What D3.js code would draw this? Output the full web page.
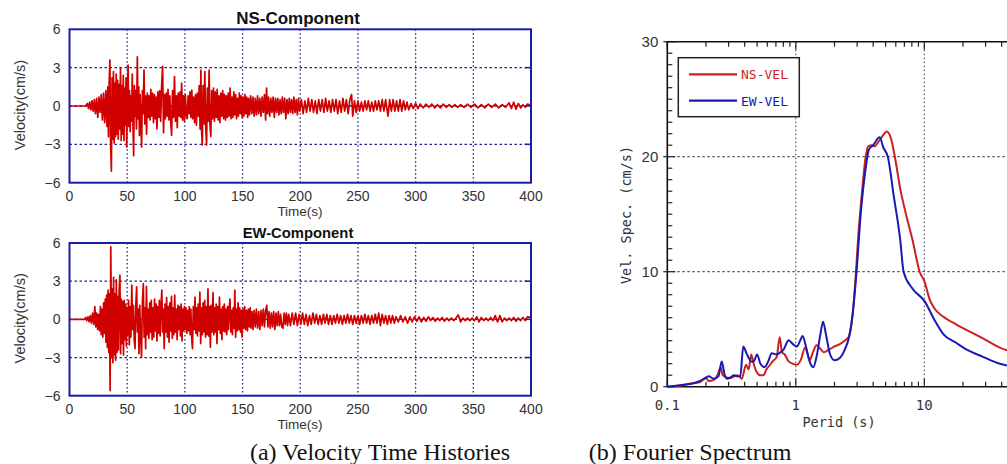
<!DOCTYPE html>
<html>
<head>
<meta charset="utf-8">
<script src="https://cdn.jsdelivr.net/npm/d3@7"></script>
<style>
body { margin: 0; background: #fff; }
svg { display: block; }
.tick-label { font-family: "Liberation Sans", Arial, sans-serif; font-size: 14px; fill: #333; }
.mono { font-family: "DejaVu Sans Mono", "Liberation Mono", monospace; }
.caption { font-family: "Liberation Serif", "Times New Roman", serif; font-size: 24px; fill: #111; }
</style>
</head>
<body>
<script>
// - data -

// velocity time histories [time (s), velocity (cm/s)]
var nsVel = [[0,0],[14,0],[15.5,0.2],[16.5,-0.2],[17.5,0.3],[18.5,-0.3],[19.5,0.4],[20.5,-0.4],[21.5,0.5],[22.5,-0.6],[23.5,0.6],[24.5,-0.9],[25.5,0.7],[26.5,-0.5],[27.5,0.9],[28.5,-1.1],[29.5,1.0],[30.5,-1.3],[31.5,1.2],[32.5,-1.6],[33.2,1.5],[33.8,-2.4],[34.4,1.9],[35,3.6],[35.6,-2.8],[36.3,-5.1],[36.9,2.2],[37.5,-2.6],[38.1,2.7],[38.7,-2.9],[39.3,1.8],[39.9,-2.4],[40.5,2.5],[41.1,-2.2],[41.7,2.0],[42.3,-2.6],[42.9,1.7],[43.5,-1.8],[44.2,3.0],[44.8,-2.7],[45.4,1.6],[46,-2.2],[46.6,2.4],[47.2,-2.7],[47.8,1.4],[48.4,-1.5],[49,2.2],[49.6,-3.2],[50.2,1.1],[50.8,3.2],[51.4,-1.6],[52,1.2],[52.6,-2.0],[53.2,0.8],[53.8,-1.2],[54.4,2.5],[55,-1.5],[55.6,-3.9],[56.2,1.6],[56.8,-0.8],[57.4,1.2],[58,-1.8],[58.8,3.85],[59.4,-1.0],[60,1.5],[60.6,-2.3],[61.2,0.9],[61.8,-1.2],[62.5,-3.2],[63.2,1.2],[63.8,-0.6],[64.6,2.8],[65.3,-1.4],[66,0.8],[66.8,-2.2],[67.5,1.0],[68.3,-0.9],[69,0.8],[69.8,-1.1],[70.5,1.3],[71.3,-0.8],[72,1.0],[72.8,-1.3],[73.6,0.9],[74.4,-1.0],[75.2,0.7],[75.8,-1.8],[76.6,1.1],[77.4,-0.9],[78.2,1.2],[79,-1.2],[79.8,1.5],[80.7,3.1],[81.5,-2.1],[82.3,0.9],[83.1,-1.0],[83.9,1.0],[84.7,-0.8],[85.4,1.3],[86.2,-1.1],[87,0.8],[87.8,-1.3],[88.5,-2.3],[89.3,1.2],[90.1,-0.9],[91,2.3],[91.8,-1.2],[92.6,0.8],[93.4,-1.7],[94.2,1.0],[95,-0.8],[95.8,1.1],[96.5,-0.9],[97.2,1.8],[98,-1.1],[98.8,0.8],[99.6,-1.2],[100.4,0.9],[101.2,-0.7],[102,-1.0],[102.8,0.8],[103.6,-0.6],[104.4,1.1],[105.2,-0.9],[106,1.25],[106.8,-1.0],[107.6,0.7],[108.4,-1.3],[109.2,0.9],[110,-1.5],[110.8,1.0],[111.6,-0.8],[112.4,1.6],[113.2,-1.8],[113.9,2.8],[114.5,-2.0],[115.1,-3.05],[115.8,1.6],[116.5,-1.4],[117.3,2.7],[118,-1.5],[118.8,-3.05],[119.5,1.4],[120.2,-1.2],[121,2.8],[121.7,-1.4],[122.5,-2.4],[123.2,1.2],[124,-1.0],[124.8,1.4],[125.6,-1.2],[126.4,1.1],[127.2,-0.9],[128,1.3],[128.8,-1.1],[129.6,0.8],[130.4,-1.3],[131.2,1.0],[132,-0.8],[132.8,1.2],[133.6,-1.0],[134.4,0.9],[135.2,-1.1],[136,0.8],[136.8,-0.9],[137.6,1.0],[138.4,-0.8],[139.2,1.4],[140,-1.0],[140.8,0.7],[141.6,-0.9],[142.4,1.1],[143.2,-0.7],[144,0.9],[144.8,-1.0],[145.6,0.6],[146.4,-0.8],[147.2,1.0],[148,-0.6],[148.8,0.8],[149.6,-0.9],[150.4,0.7],[151.2,-0.8],[152,0.9],[152.8,-0.6],[153.6,0.7],[154.4,-0.9],[155.2,0.6],[156,-0.7],[157,0.8],[158,-0.6],[159,0.7],[160,-0.8],[161,0.6],[162,-0.7],[163,0.8],[164,-0.6],[165,0.6],[166,-0.8],[167,0.7],[168,-0.5],[169,0.9],[170,-1.1],[170.8,1.4],[171.6,-0.6],[172.5,0.7],[173.5,-0.8],[174.5,0.6],[175.5,-0.5],[176.5,0.7],[177.5,-0.9],[178.5,0.6],[179.5,-0.5],[180.5,0.6],[181.5,-0.7],[182.5,0.5],[183.5,-0.6],[184.5,0.7],[185.5,-0.5],[186.5,0.6],[187.5,-1.0],[188.5,0.5],[189.5,-0.6],[190.5,0.6],[191.5,-0.5],[192.5,0.5],[193.5,-0.6],[194.5,0.7],[195.5,-0.5],[196.5,0.5],[197.5,-0.7],[198.5,0.6],[199.5,-0.4],[201,0.5],[202.5,-0.6],[204,0.4],[205.5,-0.5],[207,0.6],[208.5,-0.4],[210,0.5],[211.5,-0.5],[213,0.4],[214.5,-0.6],[216,0.5],[217.5,-0.4],[219,0.5],[220.5,-0.5],[222,0.6],[223.5,-0.4],[225,0.4],[226.5,-0.5],[228,0.5],[229.5,-0.4],[231,0.5],[232.5,-0.6],[234,0.4],[235.5,-0.5],[237,0.6],[238.5,-0.4],[240,0.5],[241.5,-0.6],[243,0.5],[244.5,0.9],[245.5,-0.8],[247,0.4],[248.5,-0.5],[250,0.4],[251.5,-0.4],[253,0.3],[254.5,-0.4],[256,0.4],[257.5,-0.3],[259,0.4],[260.5,-0.4],[262,0.3],[263.5,-0.4],[265,0.4],[266.5,-0.3],[268,0.4],[269.5,-0.4],[271,0.5],[272.5,-0.4],[274,0.5],[276,-0.8],[277.5,0.5],[279,-0.4],[280.5,0.5],[282,-0.4],[283.5,0.4],[285,-0.4],[286.5,0.5],[288,-0.4],[289.5,0.4],[291,-0.3],[292.5,0.3],[294,-0.3],[296,0.2],[298,-0.2],[300,0.2],[302,-0.2],[304,0.15],[306.5,-0.15],[309,0.15],[311.5,-0.1],[314,0.15],[316.5,-0.15],[319,0.1],[321.5,-0.15],[324,0.15],[326.5,-0.1],[329,0.1],[331.5,-0.1],[334,0.1],[336.5,-0.1],[339,0.1],[342,-0.1],[345,0.15],[348,-0.1],[351,0.15],[354,-0.15],[357,0.1],[360,-0.15],[363,0.15],[366,-0.1],[369,0.15],[372,-0.15],[375,0.1],[378,-0.1],[381,0.25],[383,-0.2],[385,0.3],[387,-0.25],[389,0.2],[391,-0.15],[393,0.1],[395,-0.1],[397,0.15],[400,0.05]];

var ewVel = [[0,0],[13,0],[14,0.15],[15,-0.1],[16,0.2],[17,-0.2],[18,0.3],[19,-0.3],[20,0.5],[21,-0.4],[22,1.0],[22.8,-0.6],[23.6,0.5],[24.4,-0.8],[25.2,0.4],[26,-0.9],[26.8,1.0],[27.5,-1.2],[28.2,0.8],[28.9,-1.4],[29.6,1.3],[30.3,-1.1],[31,1.6],[31.6,-1.8],[32.2,1.9],[32.8,-2.2],[33.4,2.3],[34,-2.6],[34.6,2.0],[35.2,-5.6],[35.8,5.7],[36.4,-3.0],[37,2.4],[37.6,-3.4],[38.2,3.3],[38.8,-2.8],[39.4,2.0],[40,-3.2],[40.6,3.1],[41.2,-2.6],[41.8,1.8],[42.4,-2.4],[43,2.2],[43.7,3.45],[44.3,-2.7],[44.9,1.6],[45.5,-1.9],[46.2,1.4],[46.8,-2.8],[47.4,1.5],[48,-1.6],[48.7,1.2],[49.3,-2.1],[50,0.9],[50.6,-1.2],[51.2,1.5],[51.8,-2.0],[52.5,1.0],[53.2,-1.4],[54,2.7],[54.7,-0.8],[55.4,1.1],[56.1,-1.6],[56.8,-2.3],[57.5,1.2],[58.2,2.55],[58.9,-1.0],[59.5,0.8],[60.2,-2.7],[60.9,1.1],[61.6,-1.2],[62.4,-2.95],[63.2,1.4],[64,2.8],[64.7,-1.4],[65.4,0.9],[66,-2.3],[66.7,2.6],[67.4,-1.2],[68.1,0.8],[68.8,-1.5],[69.5,1.3],[70.2,-1.0],[70.9,1.5],[71.6,-1.6],[72.3,0.9],[73,-1.4],[73.7,1.6],[74.4,-0.9],[75.1,1.2],[75.8,-1.7],[76.5,1.0],[77.2,-1.1],[77.9,1.5],[78.6,-1.3],[79.3,1.0],[80,2.3],[80.7,-1.0],[81.4,0.8],[82.1,-2.3],[82.8,1.2],[83.5,-1.0],[84.2,1.7],[84.9,-1.4],[85.6,1.0],[86.3,-1.8],[87,1.3],[87.7,-0.9],[88.4,1.8],[89.1,-1.5],[89.8,0.9],[90.5,-1.2],[91.2,1.9],[91.9,-1.0],[92.6,0.8],[93.3,-1.6],[94,1.1],[94.7,-0.8],[95.4,1.0],[96.1,-1.3],[96.8,1.2],[97.5,-1.7],[98.2,0.8],[98.9,-0.9],[99.6,1.0],[100.3,-0.8],[101,0.9],[101.7,-1.1],[102.4,0.7],[103.1,-0.9],[103.8,1.0],[104.5,-1.2],[105.2,0.8],[105.9,-1.5],[106.6,-2.3],[107.3,1.0],[108,-0.8],[108.8,1.75],[109.5,-1.1],[110.2,0.9],[110.9,-1.3],[111.6,1.2],[112.3,-0.9],[113,2.15],[113.7,-1.9],[114.4,0.9],[115.1,-1.2],[115.8,1.3],[116.5,-1.0],[117.2,1.5],[117.9,-1.4],[118.6,1.0],[119.3,-1.2],[120,2.4],[120.7,-1.3],[121.4,1.0],[122.1,-2.2],[122.8,1.1],[123.5,-1.0],[124.4,2.1],[125.1,-1.2],[125.8,0.9],[126.5,-1.0],[127.2,1.2],[127.8,-1.9],[128.5,1.0],[129.2,-0.8],[130,1.75],[130.7,-1.1],[131.4,0.8],[132.1,-1.6],[132.8,1.0],[133.5,-0.9],[134.2,1.2],[134.9,-1.0],[135.6,0.8],[136.3,-1.2],[137,1.0],[137.7,-0.8],[138.4,0.9],[139.1,1.6],[139.8,-1.0],[140.5,0.7],[141.2,-1.2],[141.9,0.9],[142.6,-0.7],[143.3,2.3],[144,-1.4],[144.7,0.8],[145.4,-0.9],[146.1,1.3],[146.8,-0.8],[147.5,0.9],[148.2,-1.0],[148.9,0.7],[149.6,-1.4],[150.3,0.8],[151,-0.7],[151.8,1.0],[152.6,-0.8],[153.4,0.7],[154.2,-0.9],[155,0.8],[155.8,-0.6],[156.6,0.9],[157.4,-0.7],[158.2,0.6],[159,-0.8],[160,0.7],[161,-0.6],[162,0.8],[163,-0.7],[164,0.6],[165,-0.8],[166,0.7],[167,-0.5],[168,0.8],[169,-0.6],[170,0.7],[171,1.1],[172,-0.6],[173,0.6],[174,-0.7],[175,0.5],[176,-0.6],[177,0.6],[178,-0.8],[179,0.5],[180,-0.5],[181,0.6],[182,-0.5],[183,0.4],[184,-0.6],[185,-0.7],[186,0.5],[187,-0.4],[188,0.5],[189,-0.5],[190,0.4],[191.5,-0.5],[193,0.5],[194.5,-0.4],[196,0.5],[197.5,-0.5],[199,0.4],[200.5,-0.4],[202,0.5],[203.5,-0.4],[205,0.4],[206.5,-0.5],[208,0.3],[209.5,-0.4],[211,0.5],[212.5,-0.3],[214,0.4],[215.5,-0.4],[217,0.3],[218.5,-0.4],[220,0.4],[221.5,-0.3],[223,0.4],[224.5,-0.4],[226,0.3],[227.5,-0.4],[229,0.3],[230.5,-0.3],[232,0.4],[233.5,-0.3],[235,0.3],[236.5,-0.4],[238,0.3],[239.5,-0.3],[241,0.4],[242.5,-0.3],[244,0.3],[245.5,-0.4],[247,0.3],[248.5,-0.3],[250,0.3],[251.5,-0.4],[253,0.3],[254.5,-0.3],[256,0.4],[257.5,-0.3],[259,0.3],[260.5,-0.4],[262,0.3],[263.5,-0.3],[265,0.4],[266.5,-0.3],[268,0.5],[269.5,-0.5],[271,0.4],[272.5,-0.3],[274,0.3],[275.5,-0.4],[277,0.3],[278.5,-0.3],[280,0.3],[281.5,-0.3],[283,0.2],[285,-0.2],[287,0.3],[289,-0.2],[291,0.2],[293,-0.3],[295,0.2],[297,-0.2],[299,0.2],[301,-0.15],[303,0.2],[305,-0.2],[307,0.15],[309,-0.15],[311,0.2],[313,-0.1],[315,0.15],[317,-0.15],[319,0.1],[321,-0.1],[323,0.15],[325,-0.15],[327,0.1],[329,-0.1],[331,0.1],[333,-0.1],[335,0.1],[337,0.35],[339,-0.2],[341,0.1],[343,-0.1],[345,0.1],[347,-0.1],[349,0.1],[351,-0.1],[353,0.2],[355,-0.2],[357,0.15],[359,-0.1],[361,0.1],[363,-0.1],[365,0.15],[367,-0.1],[369,0.3],[371,-0.2],[373,0.3],[375,-0.2],[377,0.1],[379,-0.1],[381,0.1],[383,-0.1],[385,0.15],[387,-0.15],[389,0.1],[391,-0.1],[393,0.15],[395,-0.1],[397,0.2],[400,0.15]];

// fourier spectra [period (s), vel. spec. (cm/s)]
var nsSpec = [[0.1,0],[0.12,0.05],[0.15,0.25],[0.18,0.4],[0.2,0.75],[0.21,0.5],[0.23,0.6],[0.25,1.2],[0.26,1.7],[0.27,1.0],[0.29,0.8],[0.31,0.75],[0.33,0.9],[0.35,1.0],[0.37,0.8],[0.38,0.7],[0.41,1.9],[0.43,1.5],[0.45,2.8],[0.47,2.0],[0.5,1.2],[0.53,1.0],[0.56,1.0],[0.59,1.5],[0.62,1.8],[0.66,2.2],[0.71,2.6],[0.75,4.3],[0.78,3.0],[0.82,2.8],[0.88,2.2],[0.95,2.0],[1.02,1.9],[1.1,2.4],[1.18,3.4],[1.23,2.9],[1.28,2.3],[1.36,3.0],[1.45,3.6],[1.55,3.3],[1.65,3.0],[1.8,3.2],[2.0,3.5],[2.2,3.7],[2.4,4.0],[2.6,4.4],[2.75,6.0],[2.9,9.0],[3.05,12.8],[3.25,16.5],[3.5,20.0],[3.66,20.9],[3.9,21.0],[4.1,20.9],[4.4,21.3],[4.8,21.9],[5.1,22.2],[5.5,21.6],[5.9,20.0],[6.5,17.2],[7.2,15.0],[8.1,12.75],[9.2,10.0],[10,9.2],[11,7.6],[12,6.8],[14,6.1],[17.8,5.4],[21.6,4.9],[28.6,4.2],[38.7,3.4],[46,3.1]];

var ewSpec = [[0.1,0],[0.13,0.15],[0.16,0.3],[0.18,0.5],[0.2,0.8],[0.21,0.9],[0.23,0.7],[0.25,0.9],[0.265,2.2],[0.28,1.0],[0.29,0.7],[0.31,0.8],[0.33,1.0],[0.35,0.9],[0.37,0.9],[0.39,3.5],[0.41,3.0],[0.43,2.5],[0.45,2.2],[0.47,2.2],[0.5,2.8],[0.53,2.0],[0.57,1.7],[0.61,2.2],[0.65,2.9],[0.71,2.8],[0.76,3.0],[0.8,3.2],[0.88,4.05],[0.95,3.7],[1.02,3.5],[1.08,4.0],[1.13,4.4],[1.2,3.5],[1.28,2.2],[1.37,1.7],[1.45,2.6],[1.55,4.5],[1.63,5.65],[1.72,4.5],[1.85,2.8],[2.0,2.3],[2.2,2.5],[2.4,3.2],[2.6,4.35],[2.75,6.0],[2.97,10.0],[3.2,15.0],[3.5,19.0],[3.7,20.6],[4.0,21.0],[4.49,21.7],[4.8,20.8],[5.2,20.0],[5.8,16.5],[6.5,12.75],[6.9,10.0],[8.0,8.6],[10.1,7.4],[12,5.8],[14,4.6],[17.8,3.8],[21.6,3.2],[28.6,2.6],[38.7,2.0],[46,1.8]];

// tick labels
var timeTicks = [0, 50, 100, 150, 200, 250, 300, 350, 400];
var velTicks = [-6, -3, 0, 3, 6];
var periodTicks = [0.1, 1, 10];
var periodLabels = ['0.1', '1', '10'];
var specTicks = [0, 10, 20, 30];
var legendNames = ['NS-VEL', 'EW-VEL'];

// - global -

var width = 1007;
var height = 464;

var svg = d3.select('body').append('svg')
	.attr('width', width)
	.attr('height', height);

var frameBlue = '#1c1ca8';
var gridBlue = '#22228c';
var traceRed = '#d00000';

var xTime = d3.scaleLinear().domain([0, 400]).range([69.5, 531]);

// - time history panel -

function drawHistory(data, top, bottom, title, titleSize) {
	var y = d3.scaleLinear().domain([-6, 6]).range([bottom, top]);
	var g = svg.append('g');

	// grid
	g.selectAll('.vgrid')
		.data(timeTicks.slice(1, -1)).enter()
		.append('line')
			.attr('x1', d => xTime(d)).attr('x2', d => xTime(d))
			.attr('y1', top).attr('y2', bottom)
			.attr('stroke', gridBlue).attr('stroke-width', 1.3)
			.attr('stroke-dasharray', '1.5,2.5');

	g.selectAll('.hgrid')
		.data(velTicks.slice(1, -1)).enter()
		.append('line')
			.attr('x1', xTime(0)).attr('x2', xTime(400))
			.attr('y1', d => y(d)).attr('y2', d => y(d))
			.attr('stroke', gridBlue).attr('stroke-width', 1.3)
			.attr('stroke-dasharray', '2.5,2.5');

	// trace
	var line = d3.line()
		.x(d => xTime(d[0]))
		.y(d => y(d[1]));

	g.append('path')
		.datum(data)
		.attr('d', line)
		.attr('fill', 'none')
		.attr('stroke', traceRed)
		.attr('stroke-width', 1.7)
		.attr('stroke-linejoin', 'round');

	// inner ticks on right side
	g.selectAll('.rtick')
		.data(velTicks.slice(1, -1)).enter()
		.append('line')
			.attr('x1', xTime(400) - 6).attr('x2', xTime(400))
			.attr('y1', d => y(d)).attr('y2', d => y(d))
			.attr('stroke', frameBlue).attr('stroke-width', 1.5);

	// frame
	g.append('rect')
		.attr('x', xTime(0)).attr('y', top)
		.attr('width', xTime(400) - xTime(0))
		.attr('height', bottom - top)
		.attr('fill', 'none')
		.attr('stroke', frameBlue)
		.attr('stroke-width', 2);

	// tick labels
	g.selectAll('.ylab')
		.data(velTicks).enter()
		.append('text')
			.attr('class', 'tick-label')
			.attr('x', xTime(0) - 9)
			.attr('y', d => y(d) + 5)
			.attr('text-anchor', 'end')
			.text(d => d < 0 ? '\u2212' + (-d) : d);

	g.selectAll('.xlab')
		.data(timeTicks).enter()
		.append('text')
			.attr('class', 'tick-label')
			.attr('x', d => xTime(d))
			.attr('y', bottom + 18)
			.attr('text-anchor', 'middle')
			.text(d => d);

	g.append('text')
		.attr('class', 'tick-label')
		.attr('x', 300).attr('y', bottom + 33)
		.attr('text-anchor', 'middle')
		.style('font-size', '13.5px')
		.text('Time(s)');

	g.append('text')
		.attr('class', 'tick-label')
		.attr('transform', 'translate(25,' + ((top + bottom) / 2 - 1) + ') rotate(-90)')
		.attr('text-anchor', 'middle')
		.style('font-size', '14.5px')
		.text('Velocity(cm/s)');

	g.append('text')
		.attr('x', 298).attr('y', top - 5)
		.attr('text-anchor', 'middle')
		.style('font-family', '"Liberation Sans", Arial, sans-serif')
		.style('font-weight', 'bold')
		.style('font-size', titleSize + 'px')
		.attr('fill', '#111')
		.text(title);
}

drawHistory(nsVel, 29.3, 182.7, 'NS-Component', 17);
drawHistory(ewVel, 243, 395.7, 'EW-Component', 14.8);

// - spectrum panel -

var xPer = d3.scaleLog().domain([0.1, 100]).range([667.3, 1052.8]);
var yAmp = d3.scaleLinear().domain([0, 30]).range([386.7, 41.7]);

var gs = svg.append('g');
var sTop = yAmp(30), sBot = yAmp(0), sLeft = xPer(0.1), sRight = width + 5;

// grid
gs.selectAll('.pgrid')
	.data([1, 10]).enter()
	.append('line')
		.attr('x1', d => xPer(d)).attr('x2', d => xPer(d))
		.attr('y1', sTop).attr('y2', sBot)
		.attr('stroke', '#333').attr('stroke-width', 1)
		.attr('stroke-dasharray', '1.5,2.5');

gs.selectAll('.agrid')
	.data([10, 20]).enter()
	.append('line')
		.attr('x1', sLeft).attr('x2', sRight)
		.attr('y1', d => yAmp(d)).attr('y2', d => yAmp(d))
		.attr('stroke', '#333').attr('stroke-width', 1)
		.attr('stroke-dasharray', '2.5,2.5');

// minor/major x ticks on top and bottom
var perMinor = [];
[0.1, 1, 10].forEach(function(dec) {
	for (var k = 1; k <= 9; k++) perMinor.push(dec * k);
});

[sTop, sBot].forEach(function(yy, side) {
	gs.selectAll('.ptick' + side)
		.data(perMinor).enter()
		.append('line')
			.attr('x1', d => xPer(d)).attr('x2', d => xPer(d))
			.attr('y1', yy)
			.attr('y2', d => {
				var len = periodTicks.indexOf(+d.toPrecision(3)) >= 0 ? 8 : 5;
				return side == 0 ? yy + len : yy - len;
			})
			.attr('stroke', '#222').attr('stroke-width', 1.2);
});

// y ticks, every 1
gs.selectAll('.atick')
	.data(d3.range(0, 31)).enter()
	.append('line')
		.attr('x1', d => d % 10 == 0 ? sLeft - 4 : sLeft)
		.attr('x2', d => d % 10 == 0 ? sLeft + 8 : sLeft + 5)
		.attr('y1', d => yAmp(d)).attr('y2', d => yAmp(d))
		.attr('stroke', '#222').attr('stroke-width', 1.2);

// axes lines
gs.append('line')
	.attr('x1', sLeft).attr('x2', sLeft).attr('y1', sTop).attr('y2', sBot)
	.attr('stroke', '#111').attr('stroke-width', 1.6);
gs.append('line')
	.attr('x1', sLeft).attr('x2', sRight).attr('y1', sTop).attr('y2', sTop)
	.attr('stroke', '#111').attr('stroke-width', 1.4);
gs.append('line')
	.attr('x1', sLeft).attr('x2', sRight).attr('y1', sBot).attr('y2', sBot)
	.attr('stroke', '#111').attr('stroke-width', 1.6);

// curves
var specLine = d3.line()
	.x(d => xPer(d[0]))
	.y(d => yAmp(d[1]))
	.curve(d3.curveMonotoneX);

var specColors = ['#cc1f1f', '#1a1ab0'];

gs.append('path').datum(nsSpec)
	.attr('d', specLine).attr('fill', 'none')
	.attr('stroke', specColors[0]).attr('stroke-width', 2);

gs.append('path').datum(ewSpec)
	.attr('d', specLine).attr('fill', 'none')
	.attr('stroke', specColors[1]).attr('stroke-width', 2);

// tick labels
gs.selectAll('.alab')
	.data(specTicks).enter()
	.append('text')
		.attr('class', 'tick-label')
		.attr('x', sLeft - 9)
		.attr('y', d => yAmp(d) + 5)
		.attr('text-anchor', 'end')
		.style('font-size', '15px')
		.text(d => d);

gs.selectAll('.plab')
	.data(periodTicks).enter()
	.append('text')
		.attr('class', 'tick-label mono')
		.attr('x', d => xPer(d))
		.attr('y', sBot + 23)
		.attr('text-anchor', 'middle')
		.style('font-size', '14px')
		.text((d, i) => periodLabels[i]);

gs.append('text')
	.attr('class', 'tick-label mono')
	.attr('x', 839).attr('y', 427)
	.attr('text-anchor', 'middle')
	.style('font-size', '13.5px')
	.text('Perid (s)');

gs.append('text')
	.attr('class', 'tick-label mono')
	.attr('transform', 'translate(631,215) rotate(-90)')
	.attr('text-anchor', 'middle')
	.style('font-size', '13.5px')
	.text('Vel. Spec. (cm/s)');

// legend
var lg = gs.append('g');
lg.append('rect')
	.attr('x', 678.3).attr('y', 57.7)
	.attr('width', 121).attr('height', 59)
	.attr('fill', '#fff')
	.attr('stroke', '#222').attr('stroke-width', 1.5);

legendNames.forEach(function(name, i) {
	var yy = 74.3 + i * 26.4;
	lg.append('line')
		.attr('x1', 689).attr('x2', 737)
		.attr('y1', yy).attr('y2', yy)
		.attr('stroke', specColors[i]).attr('stroke-width', 2.2);
	lg.append('text')
		.attr('class', 'mono')
		.attr('x', 741).attr('y', yy + 5)
		.style('font-size', '13px')
		.attr('fill', specColors[i])
		.text(name);
});

// - captions -

svg.append('text')
	.attr('class', 'caption')
	.attr('x', 380).attr('y', 460)
	.attr('text-anchor', 'middle')
	.text('(a) Velocity Time Histories');

svg.append('text')
	.attr('class', 'caption')
	.attr('x', 690).attr('y', 460)
	.attr('text-anchor', 'middle')
	.text('(b) Fourier Spectrum');
</script>
</body>
</html>
